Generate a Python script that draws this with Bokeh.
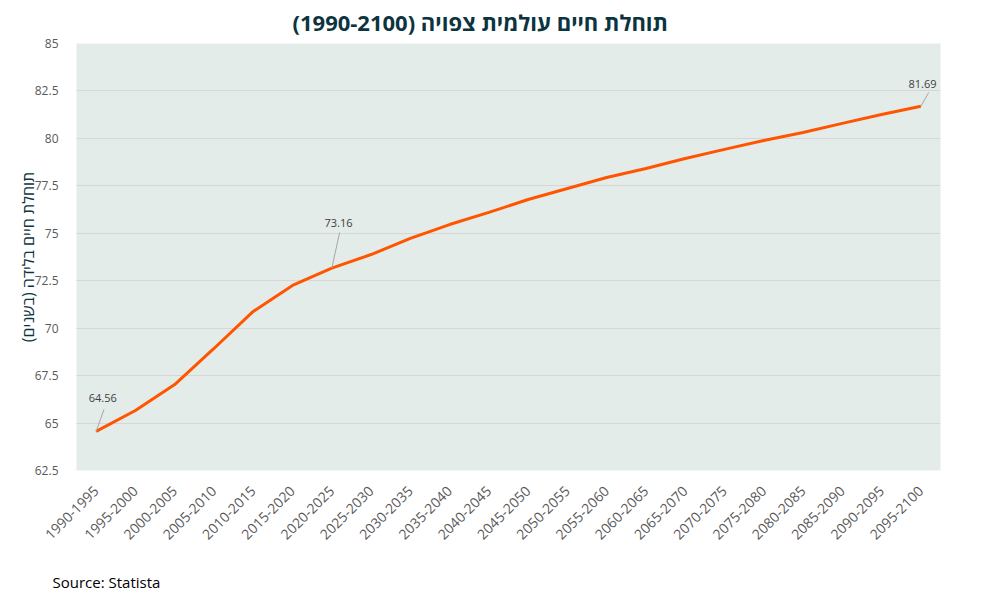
from bokeh.plotting import figure
from bokeh.models import ColumnDataSource, FactorRange, Range1d, Title, FixedTicker, LabelSet
from bokeh.transform import dodge
from bokeh.core.properties import value
from bokeh.embed import file_html
from bokeh.resources import INLINE
import math

periods = ["1990-1995", "1995-2000", "2000-2005", "2005-2010", "2010-2015", "2015-2020",
           "2020-2025", "2025-2030", "2030-2035", "2035-2040", "2040-2045", "2045-2050",
           "2050-2055", "2055-2060", "2060-2065", "2065-2070", "2070-2075", "2075-2080",
           "2080-2085", "2085-2090", "2090-2095", "2095-2100"]
life_expectancy = [64.56, 65.66, 67.03, 68.93, 70.88, 72.25, 73.16, 73.88, 74.73, 75.46,
                   76.10, 76.78, 77.36, 77.94, 78.41, 78.94, 79.42, 79.89, 80.31, 80.79,
                   81.26, 81.69]
y_ticks = [62.5, 65, 67.5, 70, 72.5, 75, 77.5, 80, 82.5, 85]
labelled = ["1990-1995", "2020-2025", "2095-2100"]

title_text = "תוחלת חיים עולמית צפויה (1990-2100)"
y_label = "תוחלת חיים בלידה (בשנים)"
source_text = "Source: Statista"

FONT = "Open Sans"

p = figure(width=970, height=614, x_range=FactorRange(*periods), y_range=Range1d(62.5, 85),
           output_backend="svg", toolbar_location=None,
           min_border_left=76, min_border_right=30, min_border_top=43, min_border_bottom=144)

p.title.text = title_text
p.title.align = "left"
p.title.offset = 216
p.title.vertical_align = "top"
p.title.standoff = 10
p.title.text_font = FONT
p.title.text_font_size = "22px"
p.title.text_font_style = "bold"
p.title.text_color = "#0b3440"

p.background_fill_color = "#e4ecea"
p.border_fill_color = "white"
p.outline_line_color = None

p.xgrid.grid_line_color = None
p.ygrid.grid_line_color = "#d6d6d6"
p.ygrid.grid_line_width = 1

p.yaxis.ticker = FixedTicker(ticks=y_ticks)
p.yaxis.axis_line_color = None
p.yaxis.major_tick_line_color = None
p.yaxis.minor_tick_line_color = None
p.yaxis.major_label_text_font = FONT
p.yaxis.major_label_text_font_size = "12px"
p.yaxis.major_label_text_color = "#595959"
p.yaxis.major_label_standoff = 12
p.yaxis.axis_label = y_label
p.yaxis.axis_label_text_font = FONT
p.yaxis.axis_label_text_font_size = "16px"
p.yaxis.axis_label_text_font_style = "normal"
p.yaxis.axis_label_text_color = "#0b3440"
p.yaxis.axis_label_standoff = -7

p.xaxis.axis_line_color = None
p.xaxis.major_tick_line_color = None
p.xaxis.minor_tick_line_color = None
p.xaxis.major_label_orientation = math.pi / 4
p.xaxis.major_label_text_font = FONT
p.xaxis.major_label_text_font_size = "14px"
p.xaxis.major_label_text_color = "#595959"
p.xaxis.major_label_standoff = 12

src = ColumnDataSource(dict(x=periods, y=life_expectancy))
p.line("x", "y", source=src, line_color="#ff5500", line_width=3)

idx = [periods.index(l) for l in labelled]
ann = ColumnDataSource(dict(
    x=[periods[i] for i in idx],
    y=[life_expectancy[i] for i in idx],
    y1=[life_expectancy[i] + d for i, d in zip(idx, [1.16, 1.88, 0.73])],
    ty=[life_expectancy[i] + d for i, d in zip(idx, [1.74, 2.38, 1.2])],
    txt=[f"{life_expectancy[i]:.2f}" for i in idx],
))
p.segment(x0="x", y0="y", x1=dodge("x", 0.2, range=p.x_range), y1="y1", source=ann,
          line_color="#a6a6a6", line_width=1)
p.add_layout(LabelSet(x=dodge("x", 0.17, range=p.x_range), y="ty", text="txt",
                      source=ColumnDataSource(dict(x=ann.data["x"][:2], ty=ann.data["ty"][:2],
                                                   txt=ann.data["txt"][:2])),
                      text_align="center", text_baseline="middle", text_font=value(FONT),
                      text_font_size="11px", text_color="#404040"))
p.add_layout(LabelSet(x=dodge("x", 0.04, range=p.x_range), y="ty", text="txt",
                      source=ColumnDataSource(dict(x=ann.data["x"][2:], ty=ann.data["ty"][2:],
                                                   txt=ann.data["txt"][2:])),
                      text_align="center", text_baseline="middle", text_font=value(FONT),
                      text_font_size="11px", text_color="#404040"))

p.add_layout(Title(text=source_text, align="left", text_font=FONT, text_font_size="15px",
                   text_font_style="normal", text_color="#000000", offset=-24,
                   standoff=45), "below")

open("out.html", "w").write(file_html(p, INLINE))
